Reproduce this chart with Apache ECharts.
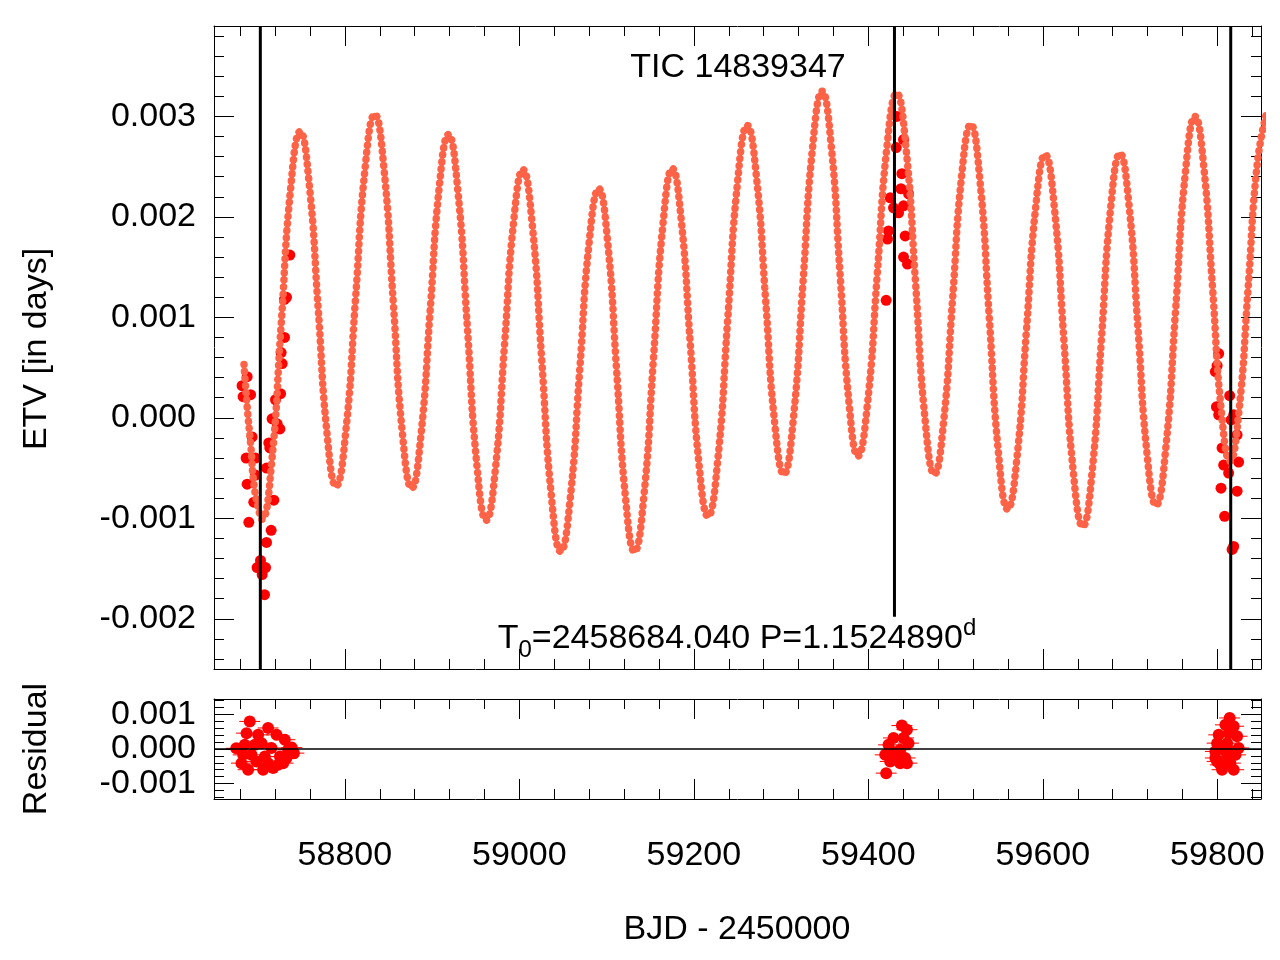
<!DOCTYPE html>
<html>
<head>
<meta charset="utf-8">
<title>TIC 14839347 ETV</title>
<script src="https://cdn.jsdelivr.net/npm/echarts@6.0.0/dist/echarts.min.js"></script>
<style>
html, body { margin:0; padding:0; background:#fff; }
#main { width:1280px; height:960px; }
</style>
</head>
<body>
<div id="main"></div>
<script type="text/javascript">

// model ETV curve (BJD-2450000, days)
var modelX = [58684.4, 58688.2, 58692.1, 58695.9, 58701.6, 58705.0, 58716.0, 58726.9, 58737.9, 58748.8,
    58759.1, 58769.4, 58779.6, 58789.9, 58801.0, 58812.1, 58823.1, 58834.2, 58844.8, 58855.4,
    58866.0, 58876.6, 58887.1, 58897.7, 58908.2, 58918.7, 58929.5, 58940.4, 58951.2, 58962.0,
    58972.5, 58983.0, 58993.5, 59004.0, 59014.9, 59025.7, 59036.6, 59047.4, 59058.3, 59069.2,
    59080.0, 59090.9, 59101.2, 59111.4, 59121.7, 59131.9, 59142.8, 59153.6, 59164.5, 59175.3,
    59185.5, 59195.8, 59206.0, 59216.2, 59227.5, 59238.7, 59250.0, 59261.2, 59271.7, 59282.2,
    59292.6, 59303.1, 59314.1, 59325.1, 59336.0, 59347.0, 59357.3, 59367.5, 59377.8, 59388.0,
    59399.1, 59410.2, 59421.3, 59432.4, 59443.2, 59454.1, 59464.9, 59475.7, 59486.1, 59496.5,
    59506.9, 59517.3, 59527.9, 59538.5, 59549.1, 59559.7, 59570.4, 59581.1, 59591.8, 59602.5,
    59613.3, 59624.1, 59634.9, 59645.7, 59656.4, 59667.1, 59677.7, 59688.4, 59698.7, 59709.1,
    59719.4, 59729.7, 59740.9, 59752.1, 59763.2, 59774.4, 59784.4, 59794.5, 59804.5, 59814.5,
    59824.9, 59835.3, 59845.6, 59856.0];
var modelY = [0.00053, 0.00009, -0.00027, -0.00067, -0.00093, -0.00101, -0.00045, 0.00092, 0.00229, 0.00285,
    0.00233, 0.00109, -0.00016, -0.00068, -0.00014, 0.00117, 0.00248, 0.00302, 0.00248, 0.00116,
    -0.00016, -0.00070, -0.00018, 0.00106, 0.00230, 0.00282, 0.00226, 0.00090, -0.00046, -0.00102,
    -0.00051, 0.00073, 0.00196, 0.00247, 0.00191, 0.00057, -0.00077, -0.00133, -0.00080, 0.00048,
    0.00175, 0.00228, 0.00175, 0.00048, -0.00080, -0.00133, -0.00077, 0.00058, 0.00192, 0.00248,
    0.00197, 0.00075, -0.00047, -0.00098, -0.00041, 0.00097, 0.00234, 0.00291, 0.00240, 0.00118,
    -0.00005, -0.00056, 0.00000, 0.00135, 0.00269, 0.00325, 0.00272, 0.00144, 0.00015, -0.00038,
    0.00015, 0.00143, 0.00270, 0.00323, 0.00268, 0.00134, -0.00001, -0.00056, -0.00005, 0.00118,
    0.00241, 0.00292, 0.00236, 0.00101, -0.00035, -0.00091, -0.00039, 0.00086, 0.00210, 0.00262,
    0.00208, 0.00077, -0.00054, -0.00108, -0.00054, 0.00078, 0.00209, 0.00263, 0.00212, 0.00088,
    -0.00036, -0.00087, -0.00030, 0.00107, 0.00243, 0.00300, 0.00250, 0.00129, 0.00007, -0.00043,
    0.00008, 0.00130, 0.00252, 0.00302];

// measured eclipse times (O-C)
var obsX = [58736.9, 58730.8, 58733.1, 58730.8, 58726.9, 58728.1, 58726.3, 58720.5, 58716.6, 58722.4,
    58725.5, 58712.8, 58714.0, 58710.2, 58718.6, 58715.5, 58710.2, 58703.3, 58699.4, 58709.1,
    58705.2, 58707.9, 58689.9, 58695.6, 58688.0, 58697.6, 58686.8, 58697.6, 58693.7, 58691.9,
    58683.4, 58682.2, 58688.0,
    59431.9, 59440.3, 59438.4, 59437.3, 59425.0, 59428.8, 59440.3, 59434.6, 59423.1, 59421.9,
    59442.2, 59440.3, 59444.8, 59420.4, 59446.1, 59432.7,
    59801.5, 59797.7, 59799.7, 59814.1, 59798.9, 59801.5, 59815.7, 59818.7, 59805.4, 59822.6,
    59807.2, 59824.4, 59812.9, 59804.2, 59822.6, 59808.3, 59818.7, 59816.9];
var obsY = [0.00162, 0.00118, 0.00120, 0.00080, 0.00065, 0.00054, 0.00024, 0.00018, -0.00001, -0.00006,
    -0.00011, -0.00025, -0.00030, -0.00050, -0.00082, -0.00112, -0.00124, -0.00142, -0.00149, -0.00149,
    -0.00156, -0.00176, -0.00104, -0.00084, -0.00066, -0.00057, -0.00040, -0.00040, -0.00019, 0.00023,
    0.00021, 0.00032, 0.00041,
    0.00269, 0.00277, 0.00243, 0.00228, 0.00219, 0.00209, 0.00211, 0.00204, 0.00186, 0.00178,
    0.00181, 0.00160, 0.00153, 0.00117, 0.00223, 0.00300,
    0.00064, 0.00046, 0.00052, 0.00022, 0.00011, 0.00003, -0.00002, 0.00003, -0.00030, -0.00017,
    -0.00047, -0.00044, -0.00055, -0.00070, -0.00073, -0.00098, -0.00128, -0.00131];

// residuals
var resX = [58691.0, 58712.0, 58687.3, 58700.6, 58721.7, 58731.2, 58685.3, 58696.8, 58704.5, 58715.9,
    58735.0, 58683.4, 58693.0, 58708.3, 58725.5, 58733.1, 58681.5, 58698.7, 58712.0, 58723.5,
    58689.1, 58706.3, 58717.8, 58729.2, 58739.2, 58675.5, 58741.6,
    59438.4, 59444.2, 59428.8, 59440.3, 59423.1, 59446.0, 59427.0, 59436.5, 59419.3, 59432.7,
    59442.2, 59425.0, 59436.5, 59444.2, 59420.4,
    59814.1, 59809.2, 59818.7, 59801.5, 59813.0, 59822.6, 59799.7, 59811.2, 59824.4, 59797.7,
    59807.2, 59816.9, 59797.7, 59811.2, 59820.8, 59803.4, 59814.9, 59805.4, 59818.7, 59799.7];
var resY = [0.00080, 0.00061, 0.00046, 0.00041, 0.00041, 0.00027, 0.00012, 0.00012, 0.00017, 0.00003,
    -0.00002, -0.00017, -0.00017, -0.00022, -0.00022, -0.00026, -0.00041, -0.00036, -0.00041, -0.00046,
    -0.00060, -0.00060, -0.00055, -0.00041, 0.00004, 0.00002, -0.00012,
    0.00068, 0.00056, 0.00032, 0.00032, 0.00012, 0.00017, -0.00007, -0.00002, -0.00017, -0.00022,
    -0.00026, -0.00036, -0.00041, -0.00041, -0.00070,
    0.00090, 0.00070, 0.00066, 0.00041, 0.00046, 0.00037, 0.00017, 0.00017, 0.00003, -0.00007,
    -0.00002, -0.00007, -0.00026, -0.00022, -0.00017, -0.00046, -0.00041, -0.00060, -0.00060, -0.00036];
var resErr = 12;   // half length of the horizontal bars, days

// vertical marker lines
var lineX = [58703.1, 59429.9, 59815.3];
var lineLow = [-0.0025, -0.00198, -0.0025];

// axes
var xMin = 58650, xMax = 59850;
var yMin = -0.0025, yMax = 0.0039;
var rMin = -0.00145, rMax = 0.00145;
var xLabels = [58800, 59000, 59200, 59400, 59600, 59800];
var yLabels = [-0.002, -0.001, 0, 0.001, 0.002, 0.003];
var rLabels = [-0.001, 0, 0.001];

var FONT = 'Liberation Sans';
var RED = '#ff0000';
var MODEL = '#ff6347';

function pairs(xs, ys) {
    var out = [];
    for (var i = 0; i < xs.length; i++) out.push([xs[i], ys[i]]);
    return out;
}

function frameAxis(kind, grid, pos, min, max, labels, fmt, split) {
    return {
        type: 'value', gridIndex: grid, position: pos,
        min: min, max: max, splitNumber: split,
        axisLine: {show: true, onZero: false, lineStyle: {color: '#000', width: 1}},
        axisTick: {show: true, inside: true, length: 20, lineStyle: {color: '#000', width: 1}},
        minorTick: {show: true, splitNumber: 5, length: 10, lineStyle: {color: '#000', width: 1}},
        splitLine: {show: false},
        minorSplitLine: {show: false},
        axisLabel: {
            show: !!labels, customValues: labels || undefined,
            showMinLabel: true, showMaxLabel: true,
            formatter: fmt, color: '#000', fontSize: 34, fontFamily: FONT,
            margin: kind == 'x' ? 40 : 18
        }
    };
}

var fmtX = function (v) { return String(v); };
var fmtY = function (v) { return v.toFixed(3); };

var series = [
    {
        type: 'scatter', xAxisIndex: 0, yAxisIndex: 0, data: pairs(obsX, obsY),
        symbol: 'circle', symbolSize: 11, itemStyle: {color: RED, opacity: 1}, z: 2, silent: true
    },
    {
        type: 'line', xAxisIndex: 0, yAxisIndex: 0, data: pairs(modelX, modelY),
        smooth: true, showSymbol: false, lineStyle: {color: MODEL, width: 3.5}, z: 3, silent: true
    },
    {
        type: 'line', xAxisIndex: 0, yAxisIndex: 0, data: pairs(modelX, modelY),
        smooth: true, showSymbol: false,
        lineStyle: {color: MODEL, width: 7.5, type: [0.1, 7], cap: 'round'}, z: 3, silent: true
    }
];

for (var k = 0; k < lineX.length; k++) {
    series.push({
        type: 'line', xAxisIndex: 0, yAxisIndex: 0,
        data: [[lineX[k], lineLow[k]], [lineX[k], yMax]],
        showSymbol: false, lineStyle: {color: '#000', width: 3}, z: 5, silent: true
    });
}

series.push({
    type: 'custom', xAxisIndex: 2, yAxisIndex: 2, data: pairs(resX, resY), z: 2, silent: true,
    renderItem: function (params, api) {
        var x = api.value(0), y = api.value(1);
        var a = api.coord([x - resErr, y]);
        var b = api.coord([x + resErr, y]);
        var c = api.coord([x, y]);
        return {
            type: 'group',
            children: [
                {type: 'line', shape: {x1: a[0], y1: a[1], x2: b[0], y2: b[1]}, style: {stroke: RED, lineWidth: 1}},
                {type: 'circle', shape: {cx: c[0], cy: c[1], r: 6}, style: {fill: RED}}
            ]
        };
    },
    markLine: {
        silent: true, symbol: 'none', label: {show: false}, z: 6,
        lineStyle: {color: '#000', width: 1.5, type: 'solid'},
        data: [{yAxis: 0}]
    }
});

function label(text, x, y, rot) {
    return {
        type: 'text', x: x, y: y, rotation: rot || 0, z: 100,
        style: {text: text, fontSize: 34, fontFamily: FONT, fill: '#000', align: 'center', verticalAlign: 'middle'}
    };
}

var option = {
    animation: false,
    backgroundColor: '#fff',
    grid: [
        {left: 214, top: 26, width: 1047, height: 643},
        {left: 214, top: 699, width: 1047, height: 100}
    ],
    xAxis: [
        frameAxis('x', 0, 'bottom', xMin, xMax, null, fmtX),
        frameAxis('x', 0, 'top', xMin, xMax, null, fmtX),
        frameAxis('x', 1, 'bottom', xMin, xMax, xLabels, fmtX),
        frameAxis('x', 1, 'top', xMin, xMax, null, fmtX)
    ],
    yAxis: [
        frameAxis('y', 0, 'left', yMin, yMax, yLabels, fmtY),
        frameAxis('y', 0, 'right', yMin, yMax, null, fmtY),
        frameAxis('y', 1, 'left', rMin, rMax, rLabels, fmtY, 2),
        frameAxis('y', 1, 'right', rMin, rMax, null, fmtY, 2)
    ],
    series: series,
    graphic: [
        label('TIC 14839347', 738, 68),
        {
            type: 'text', x: 737, y: 639, z: 100,
            style: {
                text: '{m|T}{s|0}{m|=2458684.040 P=1.1524890}{p|d}',
                fontSize: 34, fontFamily: FONT, fill: '#000', align: 'center', verticalAlign: 'middle',
                rich: {
                    m: {fontSize: 34, fontFamily: FONT, fill: '#000', lineHeight: 46},
                    s: {fontSize: 24, fontFamily: FONT, fill: '#000', verticalAlign: 'bottom'},
                    p: {fontSize: 24, fontFamily: FONT, fill: '#000', verticalAlign: 'top'}
                }
            }
        },
        label('ETV [in days]', 37, 349, Math.PI / 2),
        label('Residual', 37, 749, Math.PI / 2),
        label('BJD - 2450000', 737, 930)
    ]
};

var myChart = echarts.init(document.getElementById('main'));
myChart.setOption(option);
</script>
</body>
</html>
